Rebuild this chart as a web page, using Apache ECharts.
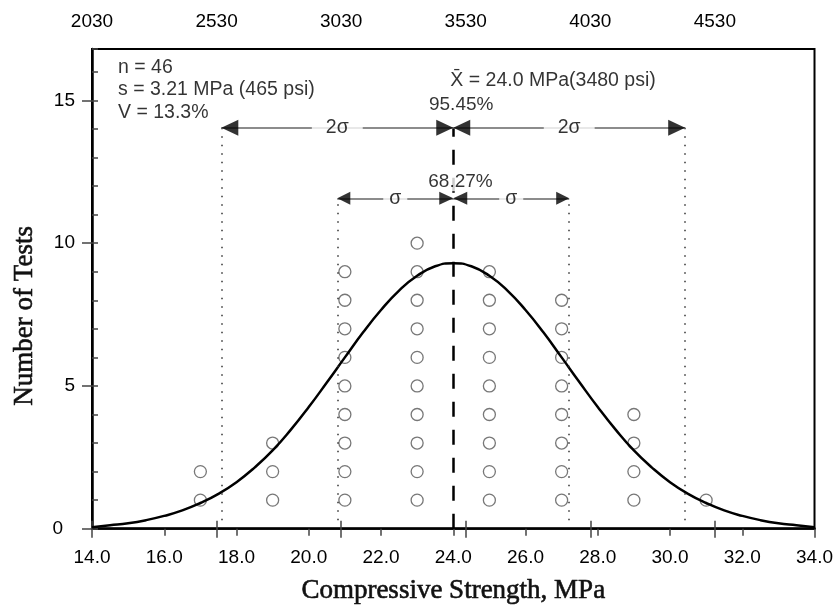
<!DOCTYPE html>
<html>
<head>
<meta charset="utf-8">
<script src="https://cdn.jsdelivr.net/npm/echarts@6/dist/echarts.min.js"></script>
<style>
  html, body { margin: 0; padding: 0; background: #fff; }
  #chart { width: 836px; height: 610px; }
</style>
</head>
<body>
<div id="chart"></div>
<script>
// Compressive strength results, grouped in 2 MPa bins
const strengthBins = [17, 19, 21, 23, 25, 27, 29, 31];
const testCounts = [2, 3, 9, 10, 9, 8, 4, 1];

// Fitted normal distribution curve (strength in MPa, number of tests)
const curveX = [14.0, 14.5, 15.0, 15.5, 16.0, 16.5, 17.0, 17.5, 18.0, 18.5, 19.0, 19.5, 20.0, 20.5,
                21.0, 21.5, 22.0, 22.5, 23.0, 23.5, 24.0, 24.5, 25.0, 25.5, 26.0, 26.5, 27.0, 27.5,
                28.0, 28.5, 29.0, 29.5, 30.0, 30.5, 31.0, 31.5, 32.0, 32.5, 33.0, 33.5, 34.0];
const curveY = [0.05, 0.12, 0.19, 0.30, 0.45, 0.64, 0.90, 1.22, 1.63, 2.14, 2.74, 3.46, 4.26, 5.12,
                6.00, 6.87, 7.66, 8.34, 8.86, 9.19, 9.30, 9.19, 8.86, 8.34, 7.66, 6.87, 6.00, 5.12,
                4.26, 3.46, 2.74, 2.14, 1.63, 1.22, 0.90, 0.64, 0.45, 0.30, 0.19, 0.12, 0.05];

// Summary statistics
const meanStrength = 24.0;
const stdDev = 3.21;
const statLines = ['n = 46', 's = 3.21 MPa (465 psi)', 'V = 13.3%'];
const meanText = 'X\u0304 = 24.0 MPa(3480 psi)';
const oneSigmaShare = '68.27%';
const twoSigmaShare = '95.45%';
const oneSigmaLabel = '\u03c3';
const twoSigmaLabel = '2\u03c3';

// Axis ranges and tick steps
const mpaRange = [14, 34];
const mpaStep = 2;
const countRange = [0, 16.8];
const countStep = 5;
const psiOrigin = 2030;   // 14 MPa expressed in psi
const psiSpan = 2900;     // 34 MPa - 14 MPa expressed in psi
const psiStep = 500;

// Heights (number of tests) of the two arrow rows
const twoSigmaRow = 14.04;
const oneSigmaRow = 11.57;

const SANS = 'Liberation Sans';
const SERIF = 'Liberation Serif';

const lo1 = meanStrength - stdDev, hi1 = meanStrength + stdDev;
const lo2 = meanStrength - 2 * stdDev, hi2 = meanStrength + 2 * stdDev;

// One circle per test, stacked in its bin
const dots = [];
strengthBins.forEach((b, i) => {
  for (let k = 1; k <= testCounts[i]; k++) dots.push([b, k]);
});

const curve = curveX.map((x, i) => [x, curveY[i]]);

// Triangle arrowhead whose tip sits on the given point
function head(x, y, dir, len, wid) {
  return {
    value: [x, y],
    symbolRotate: dir < 0 ? 90 : -90,
    symbolSize: [wid, len],
    symbolOffset: [-dir * len / 2, 0]
  };
}

const heads = [
  head(lo2, twoSigmaRow, -1, 17, 16),
  head(meanStrength, twoSigmaRow, 1, 17, 16),
  head(meanStrength, twoSigmaRow, -1, 17, 16),
  head(hi2, twoSigmaRow, 1, 17, 16),
  head(lo1, oneSigmaRow, -1, 13, 13),
  head(meanStrength, oneSigmaRow, 1, 14, 13),
  head(meanStrength, oneSigmaRow, -1, 14, 13),
  head(hi1, oneSigmaRow, 1, 13, 13)
];

const seg = (x1, y1, x2, y2) => [{ coord: [x1, y1] }, { coord: [x2, y2] }];

const textBase = { fontFamily: SANS, fontSize: 19.5, color: '#000' };
const titleStyle = { fontFamily: SERIF, fontSize: 27, color: '#111',
                     textBorderColor: '#111', textBorderWidth: 0.6 };

const chart = echarts.init(document.getElementById('chart'), null, { renderer: 'canvas' });

chart.setOption({
  animation: false,
  backgroundColor: '#fff',
  grid: {
    left: 92, right: 20, top: 49, bottom: 79,
    show: true, borderColor: '#000', borderWidth: 2, backgroundColor: 'transparent'
  },
  xAxis: [
    {
      type: 'value', position: 'bottom', min: mpaRange[0], max: mpaRange[1], interval: mpaStep,
      axisLine: { show: true, onZero: false, lineStyle: { color: '#000', width: 2.5 } },
      axisTick: { show: true, length: 7, lineStyle: { color: '#444', width: 1.5 } },
      axisLabel: { fontFamily: SANS, fontSize: 19, color: '#000', margin: 20,
                   formatter: v => v.toFixed(1) },
      splitLine: { show: false },
      name: 'Compressive Strength, MPa', nameLocation: 'middle', nameGap: 49,
      nameMoveOverlap: false,
      nameTextStyle: titleStyle
    },
    {
      type: 'value', position: 'top', min: 0, max: psiSpan, interval: psiStep,
      axisLine: { show: false },
      axisTick: { show: true, length: 8, lineStyle: { color: '#444', width: 1.5 } },
      axisLabel: { fontFamily: SANS, fontSize: 19, color: '#000', margin: 18,
                   showMaxLabel: false, formatter: v => String(v + psiOrigin) },
      splitLine: { show: false }
    },
    {
      type: 'value', position: 'top', min: 0, max: psiSpan, interval: psiStep,
      axisLine: { show: false },
      axisTick: { show: true, inside: true, length: 9, lineStyle: { color: '#444', width: 1.5 } },
      axisLabel: { show: false },
      splitLine: { show: false }
    }
  ],
  yAxis: [
    {
      type: 'value', position: 'left', min: countRange[0], max: countRange[1], interval: countStep,
      axisLine: { show: true, onZero: false, lineStyle: { color: '#000', width: 2.5 } },
      axisTick: { show: true, length: 10, lineStyle: { color: '#444', width: 1.5 } },
      axisLabel: {
        fontFamily: SANS, fontSize: 19, color: '#000', margin: 17, showMaxLabel: false,
        formatter: v => (v === 0 ? '{z|0}' : String(v)),
        rich: { z: { fontFamily: SANS, fontSize: 19, color: '#000', padding: [0, 12, 0, 0] } }
      },
      splitLine: { show: false },
      name: 'Number of Tests', nameLocation: 'middle', nameGap: 54, nameRotate: 90,
      nameMoveOverlap: false,
      nameTextStyle: { ...titleStyle, padding: [0, 54, 0, 0] }
    },
    {
      type: 'value', position: 'left', min: countRange[0], max: countRange[1], interval: 1,
      axisLine: { show: false },
      axisTick: { show: true, inside: true, length: 6, lineStyle: { color: '#444', width: 1.5 } },
      axisLabel: { show: false },
      splitLine: { show: false }
    }
  ],
  series: [
    {
      // dotted guides at one and two standard deviations
      name: 'sigmaGuides', type: 'line', data: [], z: 1,
      markLine: {
        silent: true, symbol: 'none', animation: false, label: { show: false },
        lineStyle: { color: '#333', width: 1.5, type: [1.5, 7] },
        data: [
          seg(lo2, 0.3, lo2, twoSigmaRow), seg(hi2, 0.3, hi2, twoSigmaRow),
          seg(lo1, 0.3, lo1, oneSigmaRow), seg(hi1, 0.3, hi1, oneSigmaRow)
        ]
      }
    },
    {
      // dashed line at the mean
      name: 'meanLine', type: 'line', data: [], z: 2,
      markLine: {
        silent: true, symbol: 'none', animation: false, label: { show: false },
        lineStyle: { color: '#000', width: 2.5, type: [15, 13] },
        data: [seg(meanStrength, 0, meanStrength, twoSigmaRow)]
      }
    },
    {
      // dimension arrows
      name: 'sigmaArrows', type: 'line', data: [], z: 2,
      markLine: {
        silent: true, symbol: 'none', animation: false, label: { show: false },
        lineStyle: { color: '#666', width: 1.5, type: 'solid' },
        data: [
          seg(lo2, twoSigmaRow, meanStrength, twoSigmaRow), seg(meanStrength, twoSigmaRow, hi2, twoSigmaRow),
          seg(lo1, oneSigmaRow, meanStrength, oneSigmaRow), seg(meanStrength, oneSigmaRow, hi1, oneSigmaRow)
        ]
      }
    },
    {
      name: 'tests', type: 'scatter', data: dots, z: 3,
      symbol: 'circle', symbolSize: 12,
      itemStyle: { color: 'rgba(0,0,0,0)', borderColor: '#555', borderWidth: 1.3 }
    },
    {
      name: 'normal', type: 'line', data: curve, z: 4,
      smooth: true, showSymbol: false, symbol: 'none',
      lineStyle: { color: '#000', width: 2.5 }
    },
    {
      // labels on the arrows and the percentages at the mean
      name: 'arrowLabels', type: 'scatter', z: 5, symbolSize: 1,
      itemStyle: { color: 'rgba(0,0,0,0)' },
      label: { show: true, position: 'inside', formatter: p => p.name, ...textBase, backgroundColor: '#fff' },
      data: [
        { name: twoSigmaLabel, value: [(lo2 + meanStrength) / 2, twoSigmaRow], label: { padding: [1, 14] } },
        { name: twoSigmaLabel, value: [(hi2 + meanStrength) / 2, twoSigmaRow], label: { padding: [1, 14] } },
        { name: oneSigmaLabel, value: [(lo1 + meanStrength) / 2, oneSigmaRow], label: { padding: [1, 6] } },
        { name: oneSigmaLabel, value: [(hi1 + meanStrength) / 2, oneSigmaRow], label: { padding: [1, 6] } },
        { name: twoSigmaShare, value: [meanStrength + 0.22, 14.84], label: { fontSize: 19, padding: 0 } },
        { name: oneSigmaShare, value: [meanStrength + 0.2, 12.15], label: { fontSize: 19, padding: 0 } }
      ]
    },
    {
      name: 'arrowHeads', type: 'scatter', z: 6, symbol: 'triangle', data: heads,
      itemStyle: { color: '#000' }
    },
    {
      // summary text blocks
      name: 'notes', type: 'scatter', z: 5, symbolSize: 0,
      itemStyle: { color: 'rgba(0,0,0,0)' },
      label: { show: true, formatter: p => p.name, ...textBase, lineHeight: 22.5 },
      data: [
        { name: statLines.join('\n'), value: [14.72, 16.55],
          label: { position: [0, 0], align: 'left', verticalAlign: 'top' } },
        { name: meanText, value: [23.92, 15.68],
          label: { position: 'right', distance: 0, align: 'left', verticalAlign: 'middle' } }
      ]
    }
  ]
});
</script>
</body>
</html>
